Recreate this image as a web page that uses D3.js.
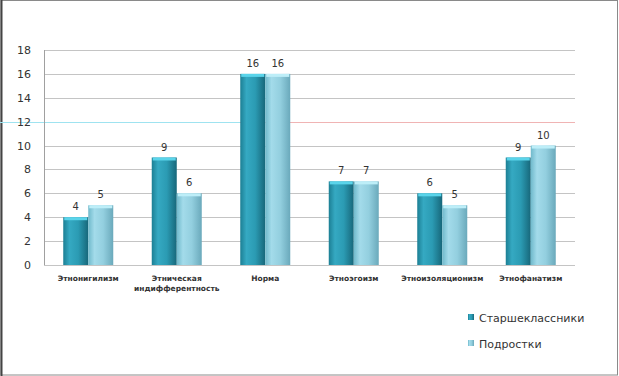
<!DOCTYPE html>
<html>
<head>
<meta charset="utf-8">
<script src="https://cdn.jsdelivr.net/npm/d3@7"></script>
<style>
  body { margin: 0; background: #fff; }
  #chart { width: 619px; height: 376px; }
  text { font-family: Verdana, "DejaVu Sans", sans-serif; }
</style>
</head>
<body>
<div id="chart"></div>
<script>
// chart data
const categories = [["Этнонигилизм"], ["Этническая", "индифферентность"], ["Норма"], ["Этноэгоизм"], ["Этноизоляционизм"], ["Этнофанатизм"]];
const seriesNames = ["Старшеклассники", "Подростки"];
const seniors = [4, 9, 16, 7, 6, 9];
const teens = [5, 6, 16, 7, 5, 10];
const yTicks = [0, 2, 4, 6, 8, 10, 12, 14, 16, 18];

const width = 619, height = 376;
const margin = { top: 50, left: 44, right: 44, bottom: 111 };

const svg = d3.select("#chart").append("svg")
    .attr("width", width)
    .attr("height", height);

// gradients to fake the cylinder shading
const defs = svg.append("defs");
function grad(id, stops) {
    const g = defs.append("linearGradient").attr("id", id)
        .attr("x1", "0%").attr("x2", "100%").attr("y1", "0%").attr("y2", "0%");
    stops.forEach(s => g.append("stop").attr("offset", s[0]).attr("stop-color", s[1]));
}
grad("g0", [["0%", "#1c7f94"], ["25%", "#35a9c2"], ["60%", "#2b9bb3"], ["100%", "#17677a"]]);
grad("g1", [["0%", "#6fb9cb"], ["25%", "#a3dbea"], ["60%", "#93cfdf"], ["100%", "#6aa9bb"]]);
const capColors = ["#5ad4ea", "#bdeef8"];

// frame
svg.append("rect").attr("x", 1).attr("y", 0.5).attr("width", width - 2.5).attr("height", height - 1.5)
    .attr("fill", "none").attr("stroke", "#8a8a8a").attr("stroke-width", 1);
svg.append("line").attr("x1", 1.5).attr("x2", 1.5).attr("y1", 0).attr("y2", height)
    .attr("stroke", "#444").attr("stroke-width", 2);

const x = d3.scaleBand().domain(d3.range(categories.length))
    .range([margin.left, width - margin.right]);
const y = d3.scaleLinear().domain([0, 18]).range([height - margin.bottom, margin.top]);
const xs = d3.scaleBand().domain([0, 1]).range([0, x.bandwidth()]).paddingOuter(0.77).paddingInner(0);

// gridlines
svg.append("g").selectAll("line").data(yTicks).join("line")
    .attr("x1", margin.left).attr("x2", width - margin.right)
    .attr("y1", d => Math.round(y(d)) + 0.5).attr("y2", d => Math.round(y(d)) + 0.5)
    .attr("stroke", "#c4c4c4");
// colored artifact on the 12 line
svg.append("line").attr("x1", 0).attr("x2", 240).attr("y1", Math.round(y(12)) + 0.5).attr("y2", Math.round(y(12)) + 0.5)
    .attr("stroke", "#9fe3f0");
svg.append("line").attr("x1", 240).attr("x2", width - margin.right).attr("y1", Math.round(y(12)) + 0.5).attr("y2", Math.round(y(12)) + 0.5)
    .attr("stroke", "#f0b4b4");

// y axis line
svg.append("line").attr("x1", margin.left + 0.5).attr("x2", margin.left + 0.5)
    .attr("y1", y(18)).attr("y2", y(0)).attr("stroke", "#a0a0a0");

svg.append("g").selectAll("text").data(yTicks).join("text")
    .attr("x", margin.left - 13).attr("y", d => y(d) + 4)
    .attr("text-anchor", "end").attr("font-size", 11).attr("fill", "#333")
    .text(d => d);

// bars
const series = [seniors, teens];
series.forEach((vals, si) => {
    const g = svg.append("g");
    g.selectAll("rect.bar").data(vals).join("rect")
        .attr("class", "bar")
        .attr("x", (d, i) => x(i) + xs(si))
        .attr("y", d => y(d))
        .attr("width", xs.bandwidth())
        .attr("height", d => y(0) - y(d))
        .attr("fill", `url(#g${si})`);
    g.selectAll("rect.cap").data(vals).join("rect")
        .attr("class", "cap")
        .attr("x", (d, i) => x(i) + xs(si) + 1)
        .attr("y", d => y(d))
        .attr("width", xs.bandwidth() - 2)
        .attr("height", 3)
        .attr("fill", capColors[si]);
    g.selectAll("text").data(vals).join("text")
        .attr("x", (d, i) => x(i) + xs(si) + xs.bandwidth() / 2)
        .attr("y", d => y(d) - 7)
        .attr("text-anchor", "middle").attr("font-size", 10).attr("fill", "#333")
        .text(d => d);
});

// category labels
svg.append("g").selectAll("text").data(categories).join("text")
    .attr("x", (d, i) => x(i) + x.bandwidth() / 2)
    .attr("y", 281)
    .attr("text-anchor", "middle").attr("font-size", 7.5).attr("font-weight", "bold").attr("fill", "#333")
    .each(function (d) {
        d3.select(this).selectAll("tspan").data(d).join("tspan")
            .attr("x", d3.select(this).attr("x"))
            .attr("dy", (t, j) => j === 0 ? 0 : 10)
            .text(t => t);
    });

// legend
const legend = svg.append("g").selectAll("g").data(seriesNames).join("g")
    .attr("transform", (d, i) => `translate(468, ${318 + i * 26})`);
legend.append("rect").attr("x", 0).attr("y", -4).attr("width", 6).attr("height", 6)
    .attr("fill", (d, i) => `url(#g${i})`);
legend.append("text").attr("x", 11).attr("y", 3.5)
    .attr("font-size", 11).attr("fill", "#333")
    .text(d => d);
</script>
</body>
</html>
